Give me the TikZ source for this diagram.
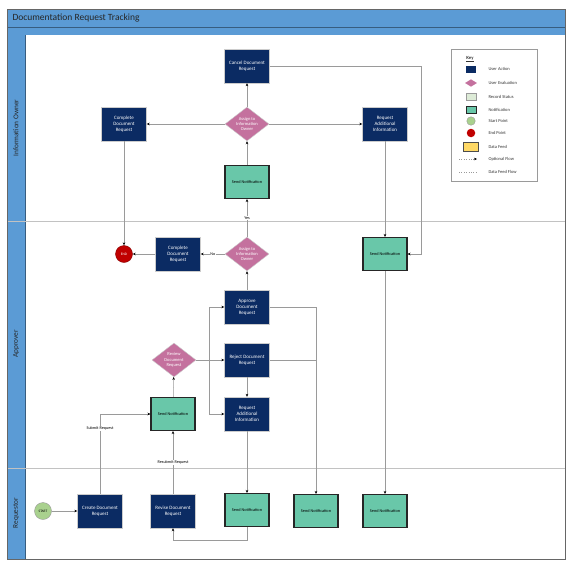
\documentclass[tikz,border=0pt]{standalone}
\usepackage{fontspec}
\setmainfont{Carlito}
\usetikzlibrary{shapes.geometric,arrows.meta}

\definecolor{actblue}{HTML}{0B2B63}
\definecolor{evalpink}{HTML}{C4719E}
\definecolor{notegreen}{HTML}{69C7A9}
\definecolor{lanehead}{HTML}{5B9BD5}
\definecolor{flowgrey}{HTML}{9A9A9A}
\definecolor{endred}{HTML}{C00000}
\definecolor{startgreen}{HTML}{A9D18E}
\definecolor{recgreen}{HTML}{DDEBD7}
\definecolor{feedyellow}{HTML}{FFD966}

\newcommand{\boxfont}{\fontsize{5}{5.8}\selectfont}
\newcommand{\notefont}{\fontsize{4.3}{5}\selectfont}
\newcommand{\keyfont}{\fontsize{4.5}{5}\selectfont}

\begin{document}
\begin{tikzpicture}[x=1pt,y=-1pt,
    action/.style={rectangle,fill=actblue,draw=flowgrey!50,minimum width=45pt,minimum height=34pt,
      inner sep=0pt,align=center,text=white,font=\boxfont},
    evaluation/.style={diamond,aspect=1.3,fill=evalpink,draw=flowgrey!50,minimum width=44pt,minimum height=34pt,
      inner sep=0pt,align=center,text=white,font=\fontsize{4.5}{5.2}\selectfont},
    notify/.style={rectangle,fill=notegreen,draw=black!85,line width=1.1pt,minimum width=44pt,minimum height=33pt,
      inner sep=0pt,font=\notefont},
    flow/.style={draw=flowgrey,line width=0.5pt,-{Stealth[length=3pt,width=2.6pt,black]}},
    plainflow/.style={draw=flowgrey,line width=0.5pt},
    lbl/.style={fill=white,inner sep=0.6pt,font=\fontsize{4.2}{5}\selectfont},
    lane/.style={rotate=90,font=\fontsize{7.3}{8}\selectfont,text=black!85},
    keytext/.style={anchor=west,font=\keyfont,text=black!80}]
\useasboundingbox (0,0) rectangle (577,570);

% swimlane frame
\fill[lanehead] (7,9) rectangle (565,35);
\fill[lanehead] (7,35) rectangle (25,559);
\draw[lanehead!60!black,line width=0.4pt] (7,27) -- (565,27);
\draw[lanehead!60!black,line width=0.4pt] (25,35) -- (25,559);
\draw[flowgrey!60,line width=0.6pt] (7,221) -- (565,221);
\draw[flowgrey!60,line width=0.6pt] (7,468) -- (565,468);
\draw[black!60,line width=0.6pt] (7,9) rectangle (565,559);
\node[anchor=west,font=\fontsize{9.5}{10}\selectfont,text=black!85] (title) at (9,18) {Documentation Request Tracking};
\node[lane] (ownerlane) at (16,128) {Information Owner};
\node[lane] (approverlane) at (16,344) {Approver};
\node[lane] (requestorlane) at (16,513) {Requestor};

% information owner
\node[action] (cancel) at (247,66) {Cancel Document\\Request};
\node[evaluation] (assign1) at (247,124) {Assign to\\Information\\Owner};
\node[action] (cdr1) at (124,124) {Complete\\Document\\Request};
\node[action] (rai1) at (385,124) {Request\\Additional\\Information};
\node[notify] (sn1) at (247,182) {Send Notification};

% approver
\node[circle,fill=endred,draw=endred!70!black,minimum size=17pt,inner sep=0pt,text=white,
  font=\fontsize{3.5}{4}\selectfont] (end) at (124,254) {END};
\node[action] (cdr2) at (178,254) {Complete\\Document\\Request};
\node[evaluation] (assign2) at (247,254) {Assign to\\Information\\Owner};
\node[notify] (snR) at (385,254) {Send Notification};
\node[action] (approve) at (247,307) {Approve\\Document\\Request};
\node[action] (reject) at (247,360) {Reject Document\\Request};
\node[action] (rai2) at (247,414) {Request\\Additional\\Information};
\node[evaluation] (review) at (174,360) {Review\\Document\\Request};
\node[notify] (sn2) at (173,414) {Send Notification};

% requestor
\node[circle,fill=startgreen,draw=flowgrey,minimum size=17pt,inner sep=0pt,
  font=\fontsize{3.5}{4}\selectfont] (start) at (43,511) {START};
\node[action] (create) at (100,511) {Create Document\\Request};
\node[action] (revise) at (173,511) {Revise Document\\Request};
\node[notify] (snB1) at (247,510) {Send Notification};
\node[notify] (snB2) at (316,511) {Send Notification};
\node[notify] (snB3) at (385,511) {Send Notification};

\coordinate (split) at (209,360);
\coordinate (cancelturn) at (421,66);
\coordinate (backturn) at (210,540);

\draw[flow] (start) -- (create);
\draw[flow] (create) |- (sn2) node[lbl,pos=0.41] (submitlbl) {Submit Request};
\draw[flow] (revise) -- (sn2) node[lbl,midway] (resubmitlbl) {Resubmit Request};
\draw[flow] (sn2) -- (review);
\draw[flow] (review) -- (reject);
\draw[flow] (split) |- (approve);
\draw[flow] (split) |- (rai2);
\draw[flow] (reject) -- (rai2);
\draw[flow] (approve) -- (assign2);
\draw[flow] (assign2) -- (cdr2) node[lbl,midway] (nolbl) {No};
\draw[flow] (cdr2) -- (end);
\draw[flow] (assign2) -- (sn1) node[lbl,midway] (yeslbl) {Yes};
\draw[flow] (sn1) -- (assign1);
\draw[flow] (assign1) -- (cancel);
\draw[flow] (assign1) -- (cdr1);
\draw[flow] (assign1) -- (rai1);
\draw[flow] (cdr1) -- (end);
\draw[flow] (cancel) -- (cancelturn) |- (snR);
\draw[flow] (rai1) -- (snR);
\draw[flow] (snR) -- (snB3);
\draw[flow] (approve) -| (snB2);
\draw[plainflow] (reject) -- (reject -| snB2);
\draw[flow] (rai2) -- (snB1);
\draw[flow] (snB1) |- (backturn) -| (revise);

% key
\draw[flowgrey,line width=0.5pt] (451,49) rectangle (537,181);
\node[font=\fontsize{4.7}{5}\selectfont\bfseries,text=black!80] (keytitle) at (470,59) {\underline{Key}};
\node[rectangle,fill=actblue,minimum width=10pt,minimum height=7pt,inner sep=0pt] (keyaction) at (471,69) {};
\node[diamond,aspect=1.6,fill=evalpink,minimum width=12pt,minimum height=7.5pt,inner sep=0pt] (keyeval) at (471,83) {};
\node[rectangle,fill=recgreen,draw=flowgrey,minimum width=10pt,minimum height=7pt,inner sep=0pt] (keyrecord) at (471,97) {};
\node[rectangle,fill=notegreen,draw=black!85,line width=0.8pt,minimum width=10pt,minimum height=7pt,inner sep=0pt] (keynote) at (471,110) {};
\node[circle,fill=startgreen,draw=flowgrey,minimum size=8.5pt,inner sep=0pt] (keystart) at (471,121) {};
\node[circle,fill=endred,minimum size=8.5pt,inner sep=0pt] (keyend) at (471,133) {};
\node[cylinder,shape border rotate=180,aspect=1.8,fill=feedyellow,draw=black!70,line width=0.4pt,
  minimum width=9pt,minimum height=15pt,inner sep=0pt] (keyfeed) at (471,147) {};
\coordinate (optstart) at (459,159);
\coordinate (optend) at (477,159);
\coordinate (feedstart) at (459,172);
\coordinate (feedend) at (477,172);
\draw[flowgrey,line width=0.4pt,dotted,-{Stealth[length=3pt,width=2.6pt,black]}] (optstart) -- (optend);
\draw[flowgrey,line width=0.4pt,dotted] (feedstart) -- (feedend);
\node[keytext] (keyactiontext) at (485,69) {User Action};
\node[keytext] (keyevaltext) at (485,83) {User Evaluation};
\node[keytext] (keyrecordtext) at (485,97) {Record Status};
\node[keytext] (keynotetext) at (485,110) {Notification};
\node[keytext] (keystarttext) at (485,121) {Start Point};
\node[keytext] (keyendtext) at (485,133) {End Point};
\node[keytext] (keyfeedtext) at (485,147) {Data Feed};
\node[keytext] (keyopttext) at (485,159) {Optional Flow};
\node[keytext] (keyfeedflowtext) at (485,172) {Data Feed Flow};
\end{tikzpicture}
\end{document}
